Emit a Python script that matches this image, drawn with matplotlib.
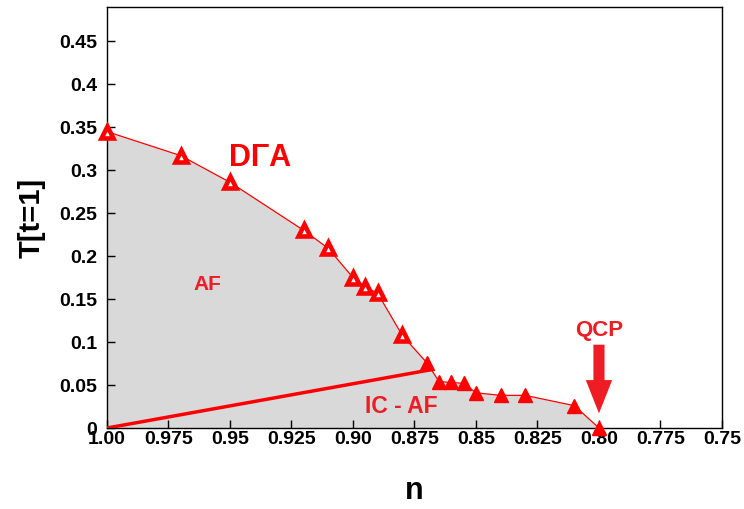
import matplotlib.pyplot as plt
import numpy as np

plt.rcParams['font.family'] = ['Liberation Sans', 'DejaVu Sans']

# -------------------------
# Data
# -------------------------
n_open = [1.00, 0.970, 0.95, 0.92, 0.91, 0.90, 0.895, 0.89, 0.88]
T_open = [0.345, 0.317, 0.286, 0.230, 0.209, 0.175, 0.164, 0.157, 0.108]

n_filled = [0.87, 0.865, 0.86, 0.855, 0.85, 0.84, 0.83, 0.81, 0.80]
T_filled = [0.076, 0.054, 0.053, 0.052, 0.041, 0.038, 0.038, 0.026, 0.0]

# boundary between AF and IC-AF
n_ic = [1.00, 0.868]
T_ic = [0.0, 0.068]

xticks = [1.00, 0.975, 0.95, 0.925, 0.90, 0.875, 0.85, 0.825, 0.80, 0.775, 0.75]
xticklabels = ['1.00', '0.975', '0.95', '0.925', '0.90', '0.875', '0.85', '0.825', '0.80', '0.775', '0.75']
yticks = [0, 0.05, 0.1, 0.15, 0.2, 0.25, 0.3, 0.35, 0.4, 0.45]
yticklabels = ['0', '0.05', '0.1', '0.15', '0.2', '0.25', '0.3', '0.35', '0.4', '0.45']

red = '#ff0000'
label_red = '#ee1c25'

# -------------------------
# Figure setup
# -------------------------
fig = plt.figure(figsize=(7.44, 5.09), dpi=100)
ax = fig.add_axes([0.1438, 0.1591, 0.8266, 0.8271])

n_all = n_open + n_filled
T_all = T_open + T_filled

# gray region under the curve
ax.fill_between(n_all, T_all, 0, color='#d9d9d9', zorder=1, linewidth=0)

ax.plot(n_all, T_all, color=red, linewidth=0.9, zorder=3)
ax.plot(n_ic, T_ic, color=red, linewidth=2.5, zorder=3, solid_capstyle='butt')

ax.plot(n_open, T_open, linestyle='none', marker='^', markersize=8.5,
        markerfacecolor='white', markeredgecolor=red, markeredgewidth=3.3,
        zorder=4, clip_on=False)
ax.plot(n_filled, T_filled, linestyle='none', marker='^', markersize=10,
        color=red, zorder=4, clip_on=False)

# annotations
ax.text(0.9376, 0.3147, 'D\u0393A', color=red, fontsize=22, fontweight='bold',
        ha='center', va='center')
ax.text(0.9593, 0.167, 'AF', color=label_red, fontsize=15, fontweight='bold',
        ha='center', va='center')
ax.text(0.8805, 0.0256, 'IC - AF', color=label_red, fontsize=16.5, fontweight='bold',
        ha='center', va='center')
ax.text(0.8, 0.113, 'QCP', color=label_red, fontsize=16, fontweight='bold',
        ha='center', va='center')
ax.annotate('', xy=(0.80, 0.017), xytext=(0.80, 0.097),
            arrowprops=dict(arrowstyle='simple,head_width=1.9,head_length=2.4,tail_width=0.8',
                            color=label_red, lw=0, shrinkA=0, shrinkB=0))

ax.set_xlim(1.00, 0.75)
ax.set_ylim(0, 0.49)
ax.set_xticks(xticks)
ax.set_xticklabels(xticklabels, fontsize=14, fontweight='bold')
ax.set_yticks(yticks)
ax.set_yticklabels(yticklabels, fontsize=14, fontweight='bold')
ax.tick_params(direction='in', length=6, width=1, top=False, right=False)
ax.tick_params(axis='x', pad=2)
ax.tick_params(axis='y', pad=7)

ax.set_xlabel('n', fontsize=22, fontweight='bold', labelpad=20)
ax.set_ylabel('T[t=1]', fontsize=21, fontweight='bold', labelpad=10)

for s in ax.spines.values():
    s.set_linewidth(1.0)

plt.savefig('out.png', dpi=100)
